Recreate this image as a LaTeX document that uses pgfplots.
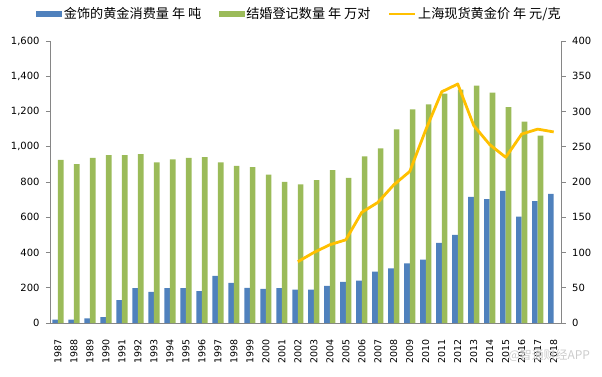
\documentclass[border=0pt]{standalone}
\usepackage{pgfplots}
\pgfplotsset{compat=1.18}
\usepackage{fontspec}
\setmainfont{DejaVu Sans}
\newfontfamily\cjk{Noto Sans CJK SC}
\definecolor{cblue}{RGB}{79,129,189}
\definecolor{cgreen}{RGB}{155,187,89}
\definecolor{cyellow}{RGB}{255,192,0}
\definecolor{axgray}{RGB}{134,134,134}
\begin{document}
\begin{tikzpicture}
\pgfplotsset{
  every axis/.append style={
    scale only axis, width=511.7bp, height=282bp,
    xmin=-0.5, xmax=31.5,
    /pgf/number format/assume math mode=true,
    tick label style={font=\fontsize{10}{12}\selectfont, color=black},
    axis line style={axgray, line width=0.6pt},
    tick align=outside,
    major tick length=4bp,
    minor tick length=4bp,
    every tick/.style={axgray, line width=0.6pt},
  }
}
\begin{axis}[name=ax,
  ymin=0, ymax=1600, ytick={0,200,...,1600},
  scaled y ticks=false,
  axis x line*=bottom, axis y line*=left,
  xtick={0,...,31},
  xticklabels={1987,1988,1989,1990,1991,1992,1993,1994,1995,1996,1997,1998,1999,2000,2001,2002,2003,2004,2005,2006,2007,2008,2009,2010,2011,2012,2013,2014,2015,2016,2017,2018},
  xtick style={draw=none},
  minor xtick={-0.5,0.5,...,31.5},
  xticklabel style={rotate=90, anchor=east, xshift=-9bp, font=\fontsize{9.5}{11}\selectfont},
  yticklabel style={xshift=-3bp},
  legend columns=3,
  legend cell align=left,
  legend style={at={(-0.027,1.096)}, anchor=west, draw=none, fill=none,
    inner sep=0pt, font=\cjk\fontsize{13.2}{15}\selectfont,
    nodes={inner sep=1.5bp},
    /tikz/every even column/.append style={column sep=16bp}},
]
\addplot[ybar, bar width=5.6bp, bar shift=-2.8bp, fill=cblue, draw=none,
  legend image code/.code={\fill[cblue] (0bp,-3bp) rectangle (26bp,3bp);}]
coordinates {(0,19)(1,19)(2,26)(3,34)(4,130)(5,198)(6,177)(7,198)(8,198)(9,181)(10,268)(11,228)(12,200)(13,194)(14,198)(15,189)(16,189)(17,211)(18,234)(19,241)(20,292)(21,310)(22,338)(23,359)(24,455)(25,500)(26,716)(27,703)(28,750)(29,604)(30,691)(31,733)};
\addlegendentry{金饰的黄金消费量 年 吨}
\addplot[ybar, bar width=5.6bp, bar shift=2.8bp, fill=cgreen, draw=none,
  legend image code/.code={\fill[cgreen] (0bp,-3bp) rectangle (26bp,3bp);}]
coordinates {(0,925)(1,901)(2,937)(3,952)(4,952)(5,958)(6,912)(7,929)(8,937)(9,941)(10,912)(11,891)(12,884)(13,842)(14,801)(15,786)(16,811)(17,867)(18,823)(19,945)(20,991)(21,1098)(22,1212)(23,1241)(24,1302)(25,1324)(26,1347)(27,1307)(28,1225)(29,1143)(30,1063)};
\addlegendentry{结婚登记数量 年 万对}
\addlegendimage{legend image code/.code={\draw[cyellow, line width=2.6bp] (0bp,0bp) -- (26bp,0bp);}}
\addlegendentry{上海现货黄金价 年 元/克}
\end{axis}
\begin{axis}[
  ymin=0, ymax=400, ytick={0,50,...,400},
  axis y line*=right, axis x line=none,
  yticklabel style={xshift=3bp},
]
\addplot[cyellow, line width=2.8bp, mark=none, line join=round]
coordinates {(15,87)(16,100)(17,111)(18,118)(19,157)(20,171)(21,196)(22,215)(23,274)(24,328)(25,339)(26,280)(27,253)(28,235)(29,268)(30,275)(31,271)};
\end{axis}
\node[anchor=west, text=gray!40, font=\cjk\fontsize{12}{14}\selectfont] at ([shift={(455bp,-32bp)}]ax.south west) {@智通财经APP};
\pgfresetboundingbox
\path[use as bounding box] ([shift={(-50bp,-54bp)}]ax.south west) rectangle ([shift={(40.3bp,41bp)}]ax.north east);
\end{tikzpicture}
\end{document}
